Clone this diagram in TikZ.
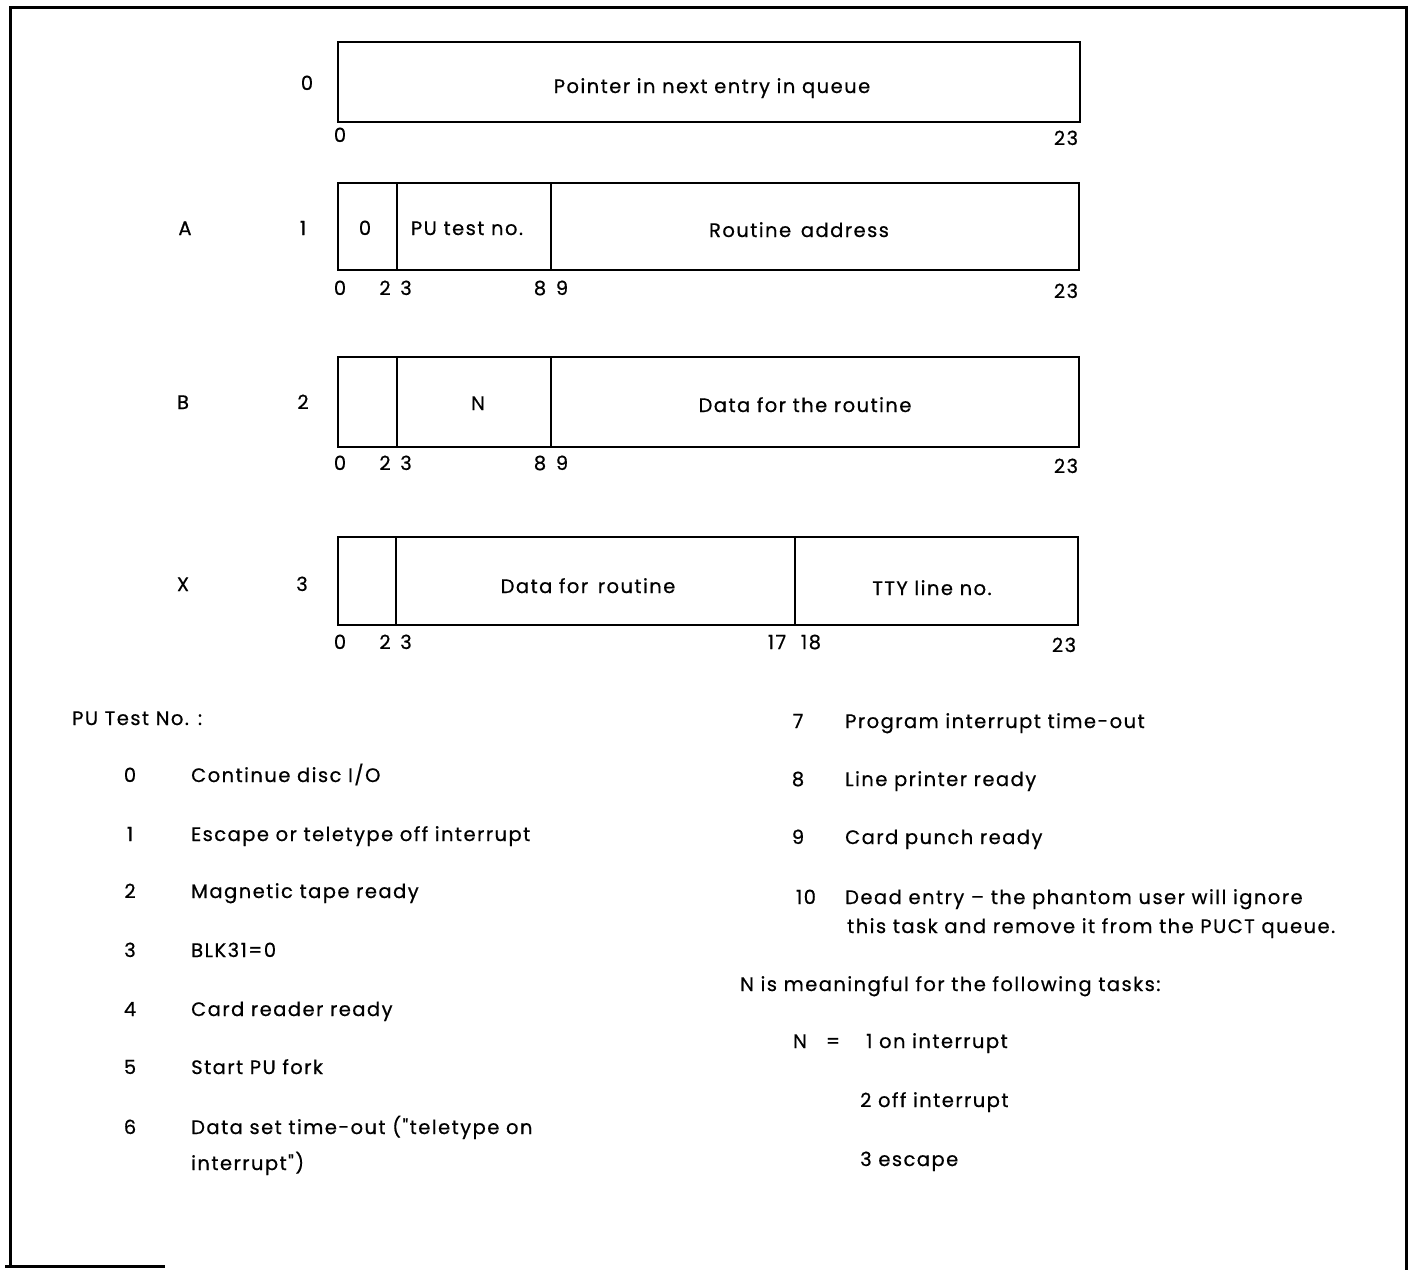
\documentclass[tikz,border=0pt]{standalone}
\usepackage{fontspec}
\newfontfamily\pf{Poppins}[LetterSpace=7.5,FakeBold=0.6]
\begin{document}
\begin{tikzpicture}[x=1pt,y=-1pt,
  frame/.style={line width=3pt},
  field/.style={line width=2.4pt},
  txt/.style={inner sep=0pt,font=\pf\fontsize{19.5}{23}\selectfont},
  lab/.style={txt,anchor=base},
  lw/.style={txt,anchor=base west}]
\useasboundingbox (0,0) rectangle (1413,1270);
% outer frame
\draw[frame] (5,1266) -- (10,1266) -- (10,7) -- (1406,7) -- (1406,1270);
\draw[frame] (10,1266) -- (165,1266);
% row 0
\draw[field] (338,42) rectangle (1080,122);
\node[lab] (w0) at (307,90) {0};
\node[lab] (f0) at (712,93) {Pointer in next entry in queue};
\node[lab] (b00) at (340,142) {0};
\node[lab] (b01) at (1066,145) {23};
% row A
\draw[field] (338,183) rectangle (1079,270);
\draw[field] (397,183) -- (397,270);
\draw[field] (551,183) -- (551,270);
\node[lab] (tA) at (185,235) {A};
\node[lab] (wA) at (303,235) {1};
\node[lab] (fA0) at (365,235) {0};
\node[lab] (fA1) at (467,235) {PU test no.};
\node[lab] (fA2) at (799,237) {Routine\enspace address};
\node[lab] (bA0) at (340,295) {0};
\node[lab] (bA1) at (385,295) {2};
\node[lab] (bA2) at (406,295) {3};
\node[lab] (bA3) at (540,295) {8};
\node[lab] (bA4) at (562,295) {9};
\node[lab] (bA5) at (1066,298) {23};
% row B
\draw[field] (338,357) rectangle (1079,447);
\draw[field] (397,357) -- (397,447);
\draw[field] (551,357) -- (551,447);
\node[lab] (tB) at (183,409) {B};
\node[lab] (wB) at (303,409) {2};
\node[lab] (fB1) at (478,410) {N};
\node[lab] (fB2) at (805,412) {Data for the routine};
\node[lab] (bB0) at (340,470) {0};
\node[lab] (bB1) at (385,470) {2};
\node[lab] (bB2) at (406,470) {3};
\node[lab] (bB3) at (540,470) {8};
\node[lab] (bB4) at (562,470) {9};
\node[lab] (bB5) at (1066,473) {23};
% row X
\draw[field] (338,537) rectangle (1078,625);
\draw[field] (396,537) -- (396,625);
\draw[field] (795,537) -- (795,625);
\node[lab] (tX) at (183,591) {X};
\node[lab] (wX) at (302,591) {3};
\node[lab] (fX1) at (588,593) {Data for\enspace routine};
\node[lab] (fX2) at (932,595) {TTY line no.};
\node[lab] (bX0) at (340,649) {0};
\node[lab] (bX1) at (385,649) {2};
\node[lab] (bX2) at (406,649) {3};
\node[lab] (bX3) at (777,649) {17};
\node[lab] (bX4) at (811,649) {18};
\node[lab] (bX5) at (1064,652) {23};
% left list
\node[lw] (hdr) at (72,725) {PU Test No.\hspace{9pt}:};
\node[lab] (n0) at (130,782) {0};  \node[lw] (d0) at (191,782) {Continue disc I/O};
\node[lab] (n1) at (130,841) {1};  \node[lw] (d1) at (191,841) {Escape or teletype off interrupt};
\node[lab] (n2) at (130,898) {2};  \node[lw] (d2) at (191,898) {Magnetic tape ready};
\node[lab] (n3) at (130,957) {3};  \node[lw] (d3) at (191,957) {BLK31=0};
\node[lab] (n4) at (130,1016) {4}; \node[lw] (d4) at (191,1016) {Card reader ready};
\node[lab] (n5) at (130,1074) {5}; \node[lw] (d5) at (191,1074) {Start PU fork};
\node[lab] (n6) at (130,1134) {6}; \node[lw] (d6) at (191,1134) {Data set time-out ("teletype on};
\node[lw] (d6b) at (191,1170) {interrupt")};
% right list
\node[lab] (n7) at (798,728) {7};  \node[lw] (d7) at (845,728) {Program interrupt time-out};
\node[lab] (n8) at (798,786) {8};  \node[lw] (d8) at (845,786) {Line printer ready};
\node[lab] (n9) at (798,844) {9};  \node[lw] (d9) at (845,844) {Card punch ready};
\node[lab] (n10) at (806,904) {10}; \node[lw] (d10) at (845,904) {Dead entry – the phantom user will ignore};
\node[lw] (d10b) at (847,933) {this task and remove it from the PUCT queue.};
\node[lw] (nm) at (740,991) {N is meaningful for the following tasks:};
\node[lab] (nN) at (800,1048) {N};
\node[lab] (neq) at (833,1048) {=};
\node[lw] (v1) at (866,1048) {1 on interrupt};
\node[lw] (v2) at (860,1107) {2 off interrupt};
\node[lw] (v3) at (860,1166) {3 escape};
\end{tikzpicture}
\end{document}
